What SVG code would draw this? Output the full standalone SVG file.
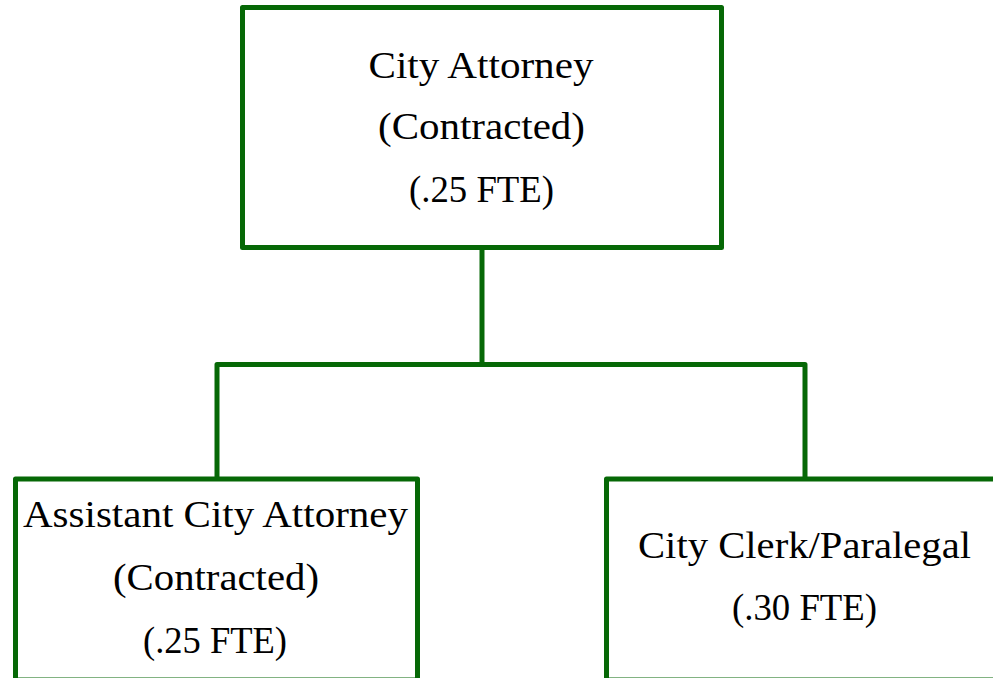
<svg xmlns="http://www.w3.org/2000/svg" width="993" height="678" viewBox="0 0 993 678">
  <style>
    .box { fill: #ffffff; stroke: #066806; stroke-width: 5; stroke-linejoin: round; }
    .wire { fill: none; stroke: #066806; stroke-width: 5; stroke-linejoin: round; }
    .lbl { font-family: "Liberation Serif", "DejaVu Serif", serif; font-size: 38px; fill: #000000; text-anchor: middle; }
  </style>
  <rect width="993" height="678" fill="#ffffff"/>

  <!-- connectors -->
  <g id="connectors">
    <path class="wire" d="M482 247.5 V364.5"/>
    <path class="wire" d="M217 479 V364.5 H805 V479"/>
  </g>

  <!-- top node -->
  <g id="city-attorney">
    <rect class="box" x="242.5" y="7.5" width="479" height="240"/>
    <text class="lbl" x="481" y="78" textLength="225" lengthAdjust="spacingAndGlyphs">City Attorney</text>
    <text class="lbl" x="481.5" y="139" textLength="207" lengthAdjust="spacingAndGlyphs">(Contracted)</text>
    <text class="lbl" x="481.5" y="202" textLength="145" lengthAdjust="spacingAndGlyphs">(.25 FTE)</text>
  </g>

  <!-- lower left node -->
  <g id="assistant-city-attorney">
    <rect class="box" x="15.5" y="479" width="402" height="201"/>
    <text class="lbl" x="215.5" y="527" textLength="385" lengthAdjust="spacingAndGlyphs">Assistant City Attorney</text>
    <text class="lbl" x="216" y="590" textLength="206" lengthAdjust="spacingAndGlyphs">(Contracted)</text>
    <text class="lbl" x="215" y="653" textLength="144" lengthAdjust="spacingAndGlyphs">(.25 FTE)</text>
  </g>

  <!-- lower right node -->
  <g id="city-clerk-paralegal">
    <rect class="box" x="606.5" y="479" width="420" height="201"/>
    <text class="lbl" x="804.5" y="558" textLength="333" lengthAdjust="spacingAndGlyphs">City Clerk/Paralegal</text>
    <text class="lbl" x="804.5" y="620" textLength="145" lengthAdjust="spacingAndGlyphs">(.30 FTE)</text>
  </g>
</svg>
